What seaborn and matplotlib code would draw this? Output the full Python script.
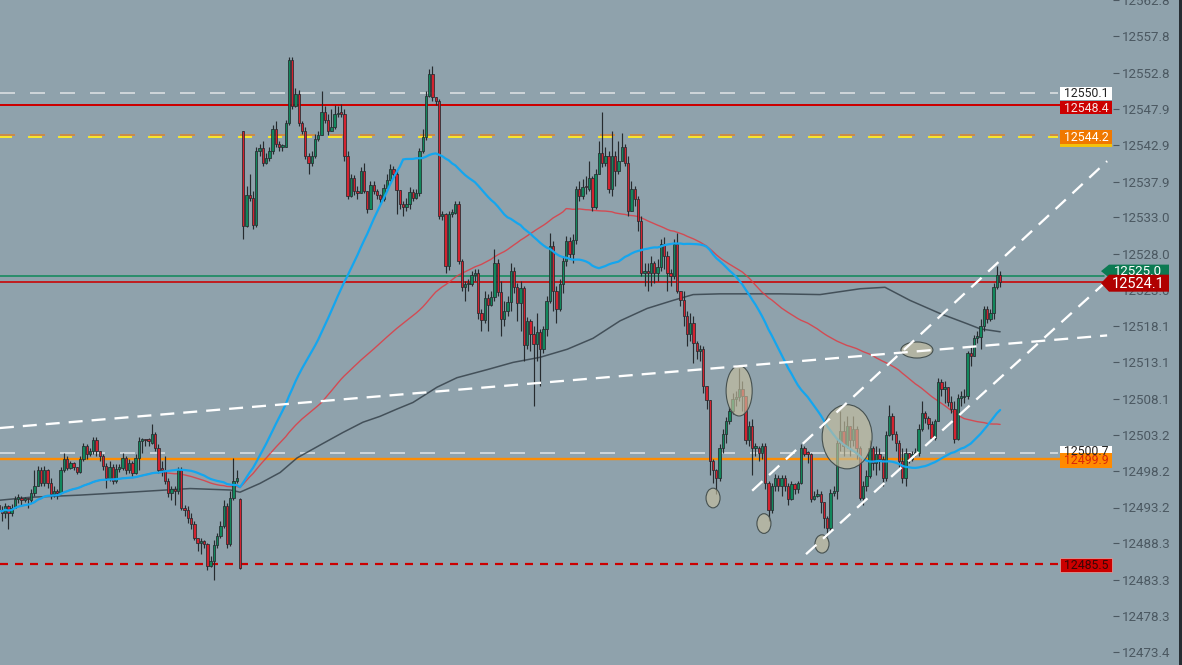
import numpy as np
import pandas as pd
import matplotlib
matplotlib.use("Agg")
import matplotlib.pyplot as plt
import seaborn as sns
from matplotlib.patches import Rectangle, Ellipse, Polygon
from matplotlib.transforms import IdentityTransform

# ---------------- data (prices) ----------------
close = [
    12492.8, 12492.5, 12493.4, 12492.4, 12493.2, 12494.4, 12494.5, 12494.2, 12494.3, 12494.2,
    12495.2, 12496.1, 12498.3, 12496.6, 12498.3, 12496.5, 12495.1, 12495.5, 12495.2,
    12498.3, 12499.9, 12498.6, 12499.3, 12498.8, 12498.1, 12499.9, 12501.6, 12500.5, 12500.9,
    12502.4, 12500.9, 12500.2, 12498.9, 12497.2, 12498.8, 12496.9, 12498.5, 12498.6, 12500.0,
    12498.3, 12499.3, 12498.0, 12500.0, 12502.3, 12502.4, 12502.3, 12502.1, 12503.3,
    12501.4, 12498.4, 12498.3, 12496.9, 12495.2, 12495.7, 12495.4, 12498.4, 12493.2, 12492.8,
    12491.7, 12490.9, 12489.0, 12488.3, 12488.6, 12488.2, 12485.2, 12485.9, 12488.0, 12489.3,
    12490.7, 12493.4, 12488.2, 12494.5, 12496.9, 12497.2, 12484.9, 12531.8, 12536.0, 12535.6,
    12531.9, 12542.1, 12542.5, 12540.4, 12541.1, 12542.1, 12545.1, 12543.0, 12542.6,
    12542.6, 12545.9, 12554.6, 12548.2, 12549.9, 12545.9, 12544.9, 12541.4, 12540.4, 12541.4,
    12543.8, 12544.3, 12547.5, 12546.4, 12544.8, 12545.4, 12547.1, 12547.2, 12547.1, 12541.4,
    12535.9, 12538.4, 12536.6, 12536.3, 12539.3, 12536.6, 12534.2, 12537.4, 12536.6, 12536.0,
    12535.5, 12537.0, 12538.1, 12539.6, 12539.0, 12536.7, 12534.8, 12534.4, 12534.8,
    12536.5, 12535.6, 12536.3, 12542.1, 12544.0, 12549.7, 12552.6, 12549.5, 12548.9, 12533.2,
    12533.4, 12526.3, 12533.5, 12533.6, 12534.8, 12527.0, 12523.5, 12523.8, 12523.9, 12525.1,
    12525.3, 12519.9, 12518.9, 12521.9, 12521.0, 12522.1, 12526.8, 12522.7, 12519.1, 12520.2,
    12521.4, 12525.6, 12523.5, 12521.3, 12523.3, 12515.5, 12518.8, 12517.0, 12515.6, 12517.3,
    12515.0, 12517.7, 12521.5, 12529.1, 12522.9, 12520.4, 12523.9, 12527.0, 12529.7, 12527.9,
    12529.9, 12536.9, 12535.9, 12537.1, 12536.9, 12538.4, 12534.4, 12539.0, 12541.8, 12540.4,
    12541.4, 12536.9, 12541.4, 12539.3, 12540.7, 12542.6, 12540.4, 12533.9, 12536.9, 12535.5,
    12532.5, 12525.3, 12525.6, 12525.3, 12526.7, 12525.3, 12526.2, 12529.3, 12527.7, 12525.3,
    12524.9, 12529.4, 12522.9, 12521.6, 12519.5, 12517.0, 12518.5, 12515.8, 12514.6, 12515.0,
    12509.9, 12508.0, 12499.6, 12498.3, 12497.2, 12501.3, 12503.3, 12505.0, 12506.4, 12508.1,
    12508.3, 12509.4, 12508.5, 12502.4, 12504.4, 12501.4, 12501.4, 12500.7, 12501.6, 12496.5,
    12492.8, 12496.1, 12497.3, 12496.1, 12497.2, 12496.1, 12494.4, 12496.4, 12495.8, 12496.6,
    12501.4, 12500.6, 12500.5, 12494.4, 12494.8, 12495.1, 12493.9, 12491.7, 12490.4, 12495.2,
    12495.5, 12502.0, 12503.7, 12501.7, 12504.4, 12502.4, 12504.0, 12501.3, 12494.5, 12496.2,
    12497.5, 12501.3, 12499.3, 12500.6, 12499.9, 12497.3, 12503.2, 12505.8, 12503.3, 12502.0,
    12499.6, 12497.2, 12500.7, 12499.9, 12500.6, 12500.7, 12504.0, 12506.2, 12505.5, 12504.7,
    12502.8, 12505.0, 12510.4, 12509.4, 12509.7, 12507.7, 12506.7, 12502.6, 12508.2, 12508.3,
    12508.5, 12514.4, 12514.0, 12516.5, 12516.6, 12518.1, 12520.4, 12519.1, 12519.9, 12523.5,
    12525.1, 12524.1,
]
high = [
    12493.8, 12493.4, 12493.8, 12493.5, 12493.7, 12494.8, 12495.0, 12494.8, 12494.7, 12494.5,
    12495.8, 12498.3, 12498.9, 12498.8, 12498.9, 12498.5, 12497.2, 12496.1, 12495.8,
    12498.8, 12500.7, 12500.3, 12499.6, 12499.5, 12498.8, 12500.3, 12502.1, 12501.9, 12501.4,
    12502.9, 12502.9, 12501.0, 12500.6, 12499.3, 12499.6, 12499.2, 12499.1, 12499.1, 12500.7,
    12500.3, 12499.9, 12499.6, 12500.6, 12502.9, 12502.7, 12502.6, 12502.7, 12504.7,
    12503.6, 12501.9, 12499.6, 12500.2, 12497.2, 12496.2, 12496.1, 12498.8, 12498.8, 12493.5,
    12493.4, 12492.5, 12491.4, 12489.0, 12489.0, 12488.7, 12488.3, 12486.6, 12488.7, 12489.7,
    12491.4, 12494.2, 12493.8, 12495.5, 12500.0, 12498.3, 12494.5, 12544.8, 12537.3, 12539.0,
    12536.6, 12542.7, 12543.1, 12543.4, 12541.8, 12542.6, 12545.6, 12546.2, 12543.4,
    12543.1, 12546.4, 12555.0, 12555.0, 12550.8, 12550.5, 12546.2, 12545.4, 12541.8, 12542.1,
    12544.4, 12544.8, 12550.3, 12548.2, 12547.2, 12547.8, 12548.4, 12548.2, 12548.6, 12547.8,
    12542.1, 12539.0, 12538.8, 12537.3, 12539.9, 12540.4, 12536.2, 12538.0, 12538.0, 12536.9,
    12536.2, 12537.6, 12538.9, 12540.3, 12540.0, 12539.3, 12535.5, 12535.2, 12535.6,
    12537.1, 12536.9, 12536.9, 12542.5, 12545.1, 12550.3, 12553.3, 12553.7, 12549.5, 12549.2,
    12533.9, 12533.6, 12533.9, 12534.1, 12535.2, 12535.2, 12527.3, 12524.3, 12524.6, 12525.6,
    12525.9, 12525.9, 12520.4, 12522.9, 12522.5, 12522.9, 12528.7, 12527.3, 12524.3, 12521.5,
    12522.2, 12526.7, 12526.2, 12524.0, 12524.3, 12523.6, 12519.3, 12519.1, 12518.1, 12519.9,
    12517.7, 12518.1, 12522.2, 12530.8, 12529.7, 12523.6, 12524.6, 12527.7, 12530.4, 12530.3,
    12530.7, 12537.3, 12538.0, 12538.3, 12538.6, 12540.7, 12538.6, 12539.6, 12543.4, 12547.4,
    12542.7, 12542.1, 12544.8, 12542.1, 12543.4, 12544.5, 12543.1, 12541.4, 12538.0, 12537.3,
    12535.9, 12533.2, 12526.7, 12526.7, 12527.7, 12527.0, 12527.3, 12530.0, 12530.3, 12528.4,
    12525.9, 12530.0, 12530.8, 12522.9, 12522.9, 12520.2, 12519.9, 12519.5, 12516.1, 12515.5,
    12515.4, 12509.9, 12507.8, 12499.9, 12498.5, 12501.9, 12504.0, 12505.6, 12507.0, 12508.9,
    12509.2, 12512.3, 12510.6, 12508.1, 12505.1, 12505.3, 12502.1, 12501.7, 12502.1, 12502.0,
    12496.9, 12496.6, 12497.8, 12497.6, 12497.6, 12497.6, 12496.5, 12496.9, 12496.6, 12496.9,
    12501.9, 12501.7, 12501.0, 12500.7, 12495.5, 12495.8, 12495.5, 12493.8, 12492.1, 12495.8,
    12496.2, 12502.6, 12506.5, 12505.1, 12505.8, 12504.4, 12505.8, 12504.4, 12501.7, 12496.9,
    12498.3, 12502.4, 12501.7, 12501.6, 12501.3, 12500.2, 12503.7, 12507.3, 12506.2, 12503.7,
    12502.4, 12501.3, 12501.3, 12500.7, 12501.0, 12501.3, 12504.6, 12507.8, 12506.5, 12505.8,
    12505.1, 12505.3, 12511.0, 12510.8, 12510.6, 12509.7, 12508.5, 12507.8, 12508.7, 12509.2,
    12509.4, 12514.7, 12515.4, 12516.9, 12517.4, 12519.1, 12520.8, 12520.8, 12520.4, 12524.0,
    12526.3, 12525.6,
]
low = [
    12492.1, 12491.4, 12491.7, 12490.3, 12492.0, 12493.1, 12493.8, 12493.5, 12493.9, 12493.2,
    12493.8, 12494.8, 12496.4, 12496.1, 12496.2, 12495.9, 12494.4, 12494.7, 12494.4,
    12495.5, 12498.1, 12498.3, 12498.5, 12498.3, 12497.8, 12498.0, 12499.6, 12499.9, 12500.2,
    12500.5, 12500.3, 12499.6, 12498.3, 12495.9, 12496.8, 12496.4, 12496.6, 12498.1, 12498.4,
    12497.8, 12497.9, 12497.5, 12497.8, 12498.3, 12500.7, 12501.7, 12501.7, 12501.9,
    12501.0, 12498.0, 12497.5, 12496.4, 12494.7, 12494.2, 12493.5, 12495.0, 12492.8, 12492.1,
    12491.1, 12490.3, 12488.7, 12487.3, 12486.8, 12487.6, 12484.6, 12485.1, 12483.2, 12487.6,
    12489.0, 12490.4, 12487.6, 12487.9, 12494.2, 12496.6, 12484.8, 12530.0, 12531.7, 12535.2,
    12531.4, 12531.7, 12541.4, 12540.0, 12540.3, 12540.7, 12541.7, 12542.6, 12542.1,
    12542.1, 12542.6, 12545.6, 12547.8, 12548.1, 12545.5, 12544.4, 12541.0, 12539.0, 12540.0,
    12541.1, 12543.4, 12544.4, 12545.9, 12544.3, 12544.8, 12545.1, 12546.7, 12546.8, 12540.7,
    12535.5, 12535.8, 12536.0, 12535.5, 12536.3, 12536.3, 12533.6, 12534.1, 12536.2, 12535.5,
    12534.8, 12535.2, 12536.7, 12538.0, 12538.6, 12533.4, 12534.1, 12533.2, 12533.9,
    12534.1, 12535.2, 12535.5, 12535.9, 12541.8, 12543.6, 12549.5, 12548.9, 12548.4, 12532.8,
    12532.6, 12525.3, 12525.8, 12533.0, 12533.4, 12526.6, 12522.9, 12521.5, 12522.9, 12523.6,
    12524.3, 12519.1, 12517.4, 12518.5, 12517.4, 12520.8, 12521.5, 12522.2, 12516.7, 12518.1,
    12519.5, 12520.2, 12522.6, 12518.8, 12517.4, 12513.3, 12514.9, 12514.7, 12507.1, 12513.3,
    12509.9, 12514.4, 12516.7, 12521.3, 12520.2, 12518.5, 12520.2, 12522.6, 12526.3, 12527.3,
    12526.7, 12529.4, 12535.2, 12535.5, 12536.2, 12536.6, 12533.9, 12534.1, 12539.0, 12539.9,
    12540.0, 12536.3, 12535.9, 12537.3, 12539.0, 12540.7, 12540.0, 12533.2, 12533.9, 12534.5,
    12531.1, 12524.9, 12523.6, 12522.9, 12523.6, 12524.0, 12524.3, 12525.6, 12525.9, 12522.9,
    12523.6, 12524.6, 12522.6, 12520.8, 12518.1, 12515.4, 12516.1, 12513.0, 12513.6, 12513.3,
    12508.9, 12506.7, 12497.6, 12496.6, 12495.1, 12496.9, 12500.7, 12502.1, 12504.6, 12506.0,
    12507.1, 12507.8, 12506.5, 12501.9, 12501.6, 12497.6, 12500.2, 12499.6, 12499.9, 12495.8,
    12491.4, 12492.5, 12495.5, 12495.5, 12494.8, 12495.5, 12493.5, 12494.2, 12495.0, 12495.2,
    12496.4, 12500.2, 12499.3, 12493.9, 12494.2, 12494.7, 12492.5, 12490.4, 12489.3, 12490.0,
    12494.8, 12494.4, 12501.0, 12500.3, 12501.3, 12500.3, 12501.7, 12499.9, 12494.2, 12493.5,
    12495.5, 12497.2, 12498.3, 12497.6, 12498.3, 12496.2, 12496.9, 12503.0, 12502.4, 12501.0,
    12498.8, 12496.6, 12496.2, 12499.3, 12499.6, 12500.2, 12500.3, 12503.7, 12504.8, 12504.0,
    12502.4, 12502.4, 12505.1, 12508.5, 12507.5, 12507.1, 12506.2, 12502.1, 12502.4, 12507.1,
    12507.5, 12508.1, 12512.6, 12514.7, 12515.8, 12514.9, 12517.4, 12518.5, 12518.8, 12519.1,
    12523.2, 12523.5,
]
first_open = 12493.5
gap_opens = {74: 12494.3, 75: 12544.8}   # session gaps (bar index -> open)

ma_windows = [50, 100]   # fast (blue) and medium (red) moving averages

# slow moving average (bar, price)
slow_ma_bar = [0.4, 9.6, 25.0, 40.3, 58.7, 71.0, 74.0, 80.1, 86.3, 91.5, 99.5, 105.6, 111.7,
               116.9, 122.1, 127.0, 134.4, 140.5, 149.7, 157.7, 166.0, 174.3, 182.2, 190.5,
               198.8, 206.7, 212.9, 221.1, 239.5, 251.8, 264.1, 271.7, 279.4, 288.6, 296.9,
               300.9, 307.0]
slow_ma_price = [12494.2, 12494.6, 12494.9, 12495.3, 12495.8, 12495.6, 12495.3, 12496.5, 12498.0,
                 12500.0, 12502.0, 12503.5, 12504.9, 12505.7, 12506.7, 12507.6, 12509.7, 12511.0,
                 12512.1, 12513.1, 12513.8, 12514.9, 12516.4, 12518.8, 12520.5, 12521.6, 12522.4,
                 12522.5, 12522.5, 12522.4, 12523.2, 12523.4, 12521.6, 12519.8, 12518.4, 12517.7,
                 12517.3]

tick_labels = ["12473.4", "12478.3", "12483.3", "12488.3", "12493.2", "12498.2",
               "12503.2", "12508.1", "12513.1", "12518.1", "12523.0", "12528.0",
               "12533.0", "12537.9", "12542.9", "12547.9", "12552.8", "12557.8", "12562.8"]

level_prices = [12550.1, 12548.4, 12544.2, 12525.0, 12524.1, 12500.7, 12499.9, 12485.5]
level_texts = ["12550.1", "12548.4", "12544.2", "12525.0", "12524.1", "12500.7", "12499.9", "12485.5"]

# drawn trend lines: (bar, price) anchors
trend_long_bars, trend_long_prices = [0.4, 339.8], [12504.1, 12516.8]
chan_up_bars, chan_up_prices = [231.0, 339.8], [12495.5, 12540.7]
chan_lo_bars, chan_lo_prices = [247.5, 339.8], [12486.8, 12524.3]

# highlighted zones (bar centre, price centre, width in bars, height in price)
zone_bar = [227.0, 219.0, 234.6, 252.4, 260.1, 281.5]
zone_price = [12509.2, 12494.5, 12491.0, 12488.2, 12502.9, 12514.8]
zone_w = [8.0, 4.3, 4.3, 4.3, 15.3, 9.8]
zone_h = [6.9, 2.7, 2.7, 2.5, 8.8, 2.2]

# ---------------- style ----------------
BG = "#8fa2ac"
TXT = "#4b5861"
EDGE = "#262b2f"
UP = "#12875c"
DN = "#d3222f"

sns.set_style("dark", {"axes.facecolor": BG, "figure.facecolor": BG})
plt.rcParams["font.family"] = ["Roboto", "DejaVu Sans"]
plt.rcParams["lines.scale_dashes"] = False

W, H = 1182, 665
AX_R = 1113
fig = plt.figure(figsize=(W / 100, H / 100), dpi=100, facecolor=BG)
ax = fig.add_axes([0, 0, AX_R / W, 1])
ax.set_facecolor(BG)

n = len(close)
bars = np.arange(n)
c = np.array(close)
o = np.array([first_open] + close[:-1])
for k, v in gap_opens.items():
    o[k] = v
hi = np.maximum(np.array(high), np.maximum(o, c))
lo = np.minimum(np.array(low), np.minimum(o, c))

ax.set_xlim(0.43, 341.6)
ax.set_ylim(12471.6, 12562.65)

# horizontal levels
PX = 0.72  # points per pixel
ax.axhline(12550.1, xmax=1058 / AX_R, color="#dde1e3", lw=1.6 * PX, ls=(0, (15 * PX, 15 * PX)), zorder=1)
ax.axhline(12548.4, xmax=1060 / AX_R, color="#cc0000", lw=2.0 * PX, zorder=1)
ax.axhline(12544.35, xmax=1058 / AX_R, color="#c98a4c", lw=2.0 * PX, ls=(0, (15 * PX, 15 * PX)), zorder=1)
ax.axhline(12544.05, xmax=1058 / AX_R, color="#f7e62e", lw=2.0 * PX, ls=(2 * PX, (14 * PX, 16 * PX)), zorder=1)
ax.axhline(12525.0, xmax=1104 / AX_R, color="#148a5d", lw=1.6 * PX, zorder=1)
ax.axhline(12524.1, xmax=1104 / AX_R, color="#cc0000", lw=1.6 * PX, zorder=1)
ax.axhline(12500.7, xmax=1058 / AX_R, color="#dde1e3", lw=1.6 * PX, ls=(0, (15 * PX, 15 * PX)), zorder=1)
ax.axhline(12499.9, xmax=1060 / AX_R, color="#ff8c00", lw=2.4 * PX, zorder=1)
ax.axhline(12485.5, xmax=1058 / AX_R, color="#cc0000", lw=2.2 * PX, ls=(0, (8 * PX, 7 * PX)), zorder=1)

# moving averages via seaborn
df = pd.DataFrame({"bar": bars, "close": c})
for w in ma_windows:
    df[f"ma{w}"] = df["close"].rolling(w, min_periods=1).mean()
sns.lineplot(x=slow_ma_bar, y=slow_ma_price, ax=ax, color="#36424b", lw=1.1, alpha=0.85,
             legend=False, sort=False, zorder=2)
sns.lineplot(data=df, x="bar", y="ma100", ax=ax, color="#de3c44", lw=1.0, alpha=0.85, legend=False, zorder=2)

# candles
cols = np.where(c >= o, UP, DN)
ax.vlines(bars, lo, hi, color=EDGE, lw=0.85, zorder=3)
body_h = np.where(np.abs(c - o) < 0.25, 0.25, c - o)
ax.bar(bars, body_h, bottom=o, width=0.72, color=cols, edgecolor=EDGE, linewidth=0.55, zorder=4)

sns.lineplot(data=df, x="bar", y="ma50", ax=ax, color="#14a6ef", lw=1.6, legend=False, zorder=5)

# zones
for xb, yp, zw, zh in zip(zone_bar, zone_price, zone_w, zone_h):
    ax.add_patch(Ellipse((xb, yp), zw, zh, facecolor="#c6bf9f", alpha=0.65, edgecolor="none", zorder=6))
    ax.add_patch(Ellipse((xb, yp), zw, zh, facecolor="none", edgecolor="#45504f", lw=0.8, zorder=6))

# trend lines
tl = dict(color="white", lw=2.3 * PX, ls=(0, (14 * PX, 9 * PX)), zorder=7, solid_capstyle="butt")
ax.plot(trend_long_bars, trend_long_prices, **tl)
ax.plot(chan_up_bars, chan_up_prices, **tl)
ax.plot(chan_lo_bars, chan_lo_prices, **tl)

# axis / ticks
ax.set_yticks([float(t) for t in tick_labels])
ax.set_yticklabels(tick_labels)
ax.yaxis.tick_right()
ax.tick_params(axis="y", direction="out", length=4.3, width=0.8, color=TXT, labelcolor=TXT,
               labelsize=9.6, pad=2)
ax.set_xticks([])
ax.set_xlabel("")
ax.set_ylabel("")
for s in ax.spines.values():
    s.set_visible(False)
ax.grid(False)

# ---------------- price labels on the right ----------------
ID = IdentityTransform()


def ypix(price):
    return ax.transData.transform((0, price))[1]


def box(price, text, fc, tc, dy=0.0, h=13.0, fs=8.8, ec="none"):
    yc = ypix(price) + dy
    fig.add_artist(Rectangle((1060, yc - h / 2), 52, h, transform=ID, facecolor=fc,
                             edgecolor=ec, lw=0.6, zorder=10))
    fig.text(1086, yc - 0.5, text, transform=ID, ha="center", va="center", color=tc,
             fontsize=fs, zorder=11)


def arrow_box(price, text, fc, tc, dy=0.0, h=14.0, fs=9.5):
    yc = ypix(price) + dy
    pts = [(1101, yc), (1109, yc + h / 2), (1169, yc + h / 2), (1169, yc - h / 2), (1109, yc - h / 2)]
    fig.add_artist(Polygon(pts, closed=True, transform=ID, facecolor=fc, edgecolor="none", zorder=12))
    fig.text(1138, yc - 0.5, text, transform=ID, ha="center", va="center", color=tc,
             fontsize=fs, zorder=13)


box(level_prices[0], level_texts[0], "white", "#222222", dy=-0.5, h=13)
box(level_prices[1], level_texts[1], "#cc0000", "#f6e6e6", dy=-2.5, h=13)
box(level_prices[2], level_texts[2], "#f07800", "#ffffff", dy=-1.5, h=15)
yc = ypix(level_prices[2]) - 1.5
fig.add_artist(Rectangle((1060, yc - 9.5), 52, 2.2, transform=ID, facecolor="#f3c20c",
                         edgecolor="none", zorder=10))
box(level_prices[5], level_texts[5], "white", "#222222", dy=1.5, h=10)
box(level_prices[6], level_texts[6], "#ff8a00", "#d8260a", dy=-1.5, h=15)
box(level_prices[7], level_texts[7], "#cc0000", "#3a0707", dy=-1.5, h=14, ec="#d99a9a")
arrow_box(level_prices[3], level_texts[3], "#0c7a52", "white", dy=4.5, h=13, fs=9.5)
arrow_box(level_prices[4], level_texts[4], "#b00000", "white", dy=-1.0, h=17, fs=10.5)

# right border
fig.add_artist(Rectangle((1179, 0), 3, H, transform=ID, facecolor="#262d33", edgecolor="none", zorder=20))

fig.savefig("out.png", dpi=100, facecolor=BG)
